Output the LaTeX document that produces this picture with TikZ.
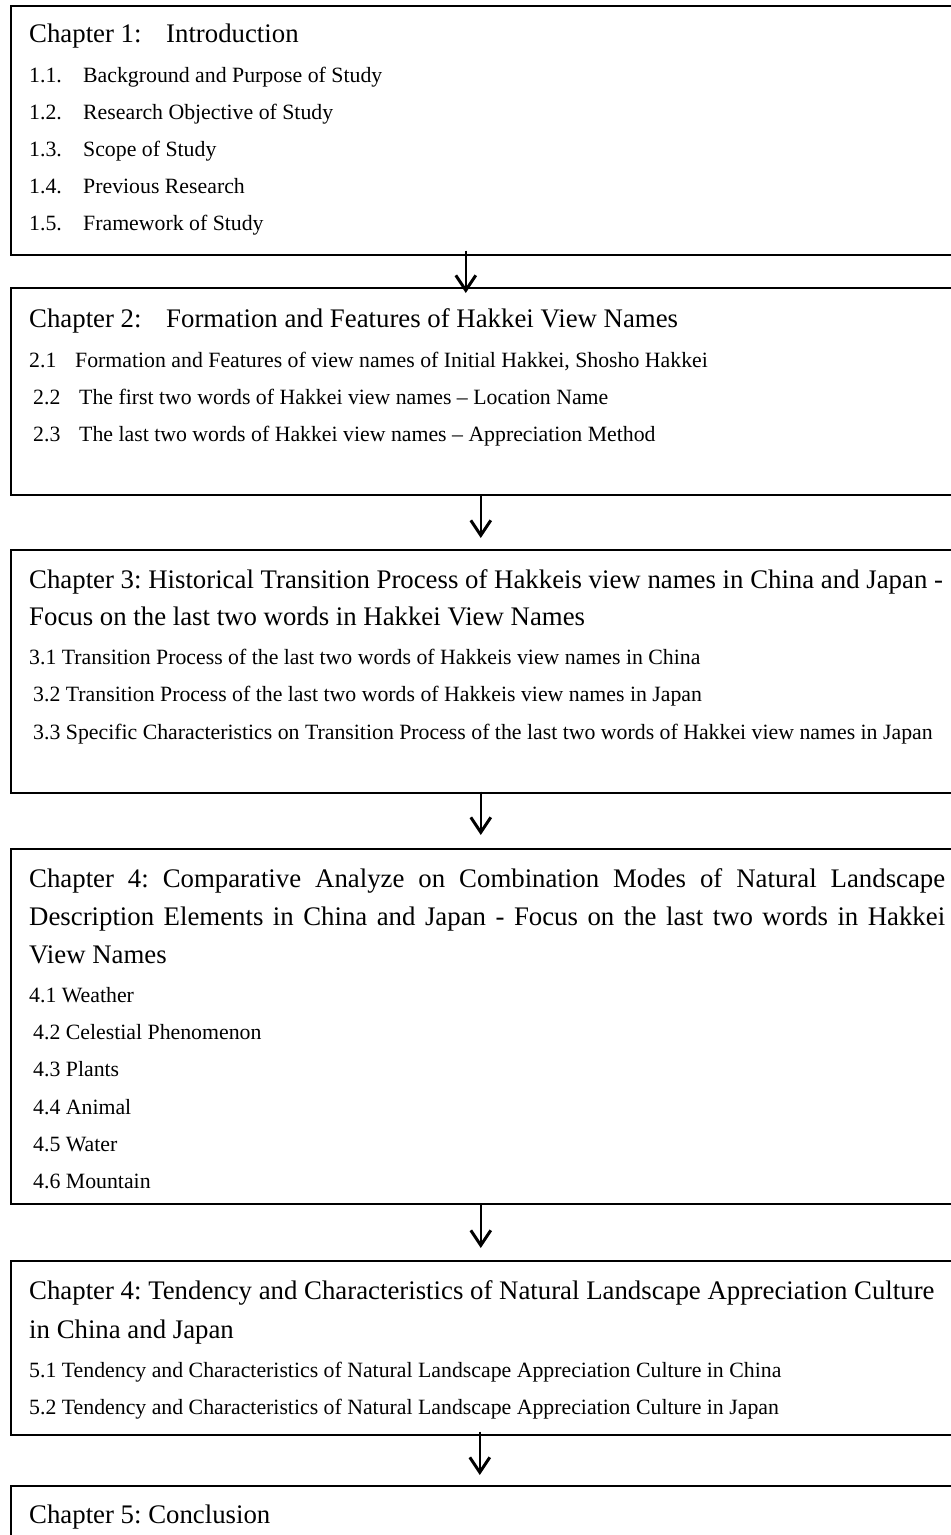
\documentclass[tikz,border=0pt]{standalone}
\usepackage{fontspec}
\setmainfont{Liberation Serif}
\usetikzlibrary{arrows.meta}

\tikzset{
  chapbox/.style={draw=black, line width=1.6pt, rectangle, inner sep=0pt,
                  minimum width=956pt, anchor=north west},
  headline/.style={anchor=base west, inner sep=0pt, font=\fontsize{26.8}{30}\selectfont},
  entry/.style={anchor=base west, inner sep=0pt, font=\fontsize{21.8}{25}\selectfont},
  flow/.style={line width=1.6pt,
               -{Straight Barb[length=15pt, width=20pt, line width=3pt]}}
}

\begin{document}
\frenchspacing
\begin{tikzpicture}[x=1pt, y=-1pt]
  \useasboundingbox (0,0) rectangle (951,1535);
  \clip (0,0) rectangle (951,1535);

  % chapter frames (they run past the right edge of the page)
  \node[chapbox, minimum height=249pt] (b1) at (10,5) {};
  \node[chapbox, minimum height=207pt] (b2) at (10,287) {};
  \node[chapbox, minimum height=243pt] (b3) at (10,549) {};
  \node[chapbox, minimum height=355pt] (b4) at (10,848) {};
  \node[chapbox, minimum height=174pt] (b5) at (10,1260) {};
  \node[chapbox, minimum height=80pt]  (b6) at (10,1485) {};

  % Chapter 1
  \node[headline] (h1) at (29,42) {\makebox[137pt][l]{Chapter 1:}Introduction};
  \node[entry] (e11) at (29,82)  {\makebox[54pt][l]{1.1.}Background and Purpose of Study};
  \node[entry] (e12) at (29,119) {\makebox[54pt][l]{1.2.}Research Objective of Study};
  \node[entry] (e13) at (29,156) {\makebox[54pt][l]{1.3.}Scope of Study};
  \node[entry] (e14) at (29,193) {\makebox[54pt][l]{1.4.}Previous Research};
  \node[entry] (e15) at (29,230) {\makebox[54pt][l]{1.5.}Framework of Study};

  % Chapter 2
  \node[headline] (h2) at (29,327) {\makebox[137pt][l]{Chapter 2:}Formation and Features of Hakkei View Names};
  \node[entry] (e21) at (29,367) {\makebox[46pt][l]{2.1}Formation and Features of view names of Initial Hakkei, Shosho Hakkei};
  \node[entry] (e22) at (33,404) {\makebox[46pt][l]{2.2}The first two words of Hakkei view names -- Location Name};
  \node[entry] (e23) at (33,441) {\makebox[46pt][l]{2.3}The last two words of Hakkei view names -- Appreciation Method};

  % Chapter 3
  \node[headline] (h3a) at (29,588) {Chapter 3: Historical Transition Process of Hakkeis view names in China and Japan -};
  \node[headline] (h3b) at (29,625) {Focus on the last two words in Hakkei View Names};
  \node[entry] (e31) at (29,664) {3.1 Transition Process of the last two words of Hakkeis view names in China};
  \node[entry] (e32) at (33,701) {3.2 Transition Process of the last two words of Hakkeis view names in Japan};
  \node[entry] (e33) at (33,739) {3.3 Specific Characteristics on Transition Process of the last two words of Hakkei view names in Japan};

  % Chapter 4 (comparative analysis)
  \node[headline] (h4a) at (29,887) {\makebox[916pt][s]{Chapter 4: Comparative Analyze on Combination Modes of Natural Landscape}};
  \node[headline] (h4b) at (29,925) {\makebox[916pt][s]{Description Elements in China and Japan - Focus on the last two words in Hakkei}};
  \node[headline] (h4c) at (29,963) {View Names};
  \node[entry] (e41) at (29,1002) {4.1 Weather};
  \node[entry] (e42) at (33,1039) {4.2 Celestial Phenomenon};
  \node[entry] (e43) at (33,1076) {4.3 Plants};
  \node[entry] (e44) at (33,1114) {4.4 Animal};
  \node[entry] (e45) at (33,1151) {4.5 Water};
  \node[entry] (e46) at (33,1188) {4.6 Mountain};

  % Chapter 4 (appreciation culture)
  \node[headline] (h5a) at (29,1299) {Chapter 4: Tendency and Characteristics of Natural Landscape Appreciation Culture};
  \node[headline] (h5b) at (29,1338) {in China and Japan};
  \node[entry] (e51) at (29,1377) {5.1 Tendency and Characteristics of Natural Landscape Appreciation Culture in China};
  \node[entry] (e52) at (29,1414) {5.2 Tendency and Characteristics of Natural Landscape Appreciation Culture in Japan};

  % Chapter 5
  \node[headline] (h6) at (29,1523) {Chapter 5: Conclusion};

  % flow between chapters
  \draw[flow] ([xshift=-23pt, yshift=5pt]b1.south) -- ([xshift=-23pt, yshift=-6pt]b2.north);
  \draw[flow] ([xshift=-8pt, yshift=1pt]b2.south)  -- ([xshift=-8pt, yshift=11pt]b3.north);
  \draw[flow] ([xshift=-8pt, yshift=2pt]b3.south)  -- ([xshift=-8pt, yshift=13pt]b4.north);
  \draw[flow] ([xshift=-8pt, yshift=0pt]b4.south)  -- ([xshift=-8pt, yshift=12pt]b5.north);
  \draw[flow] ([xshift=-9pt, yshift=4pt]b5.south)  -- ([xshift=-9pt, yshift=10pt]b6.north);
\end{tikzpicture}
\end{document}
